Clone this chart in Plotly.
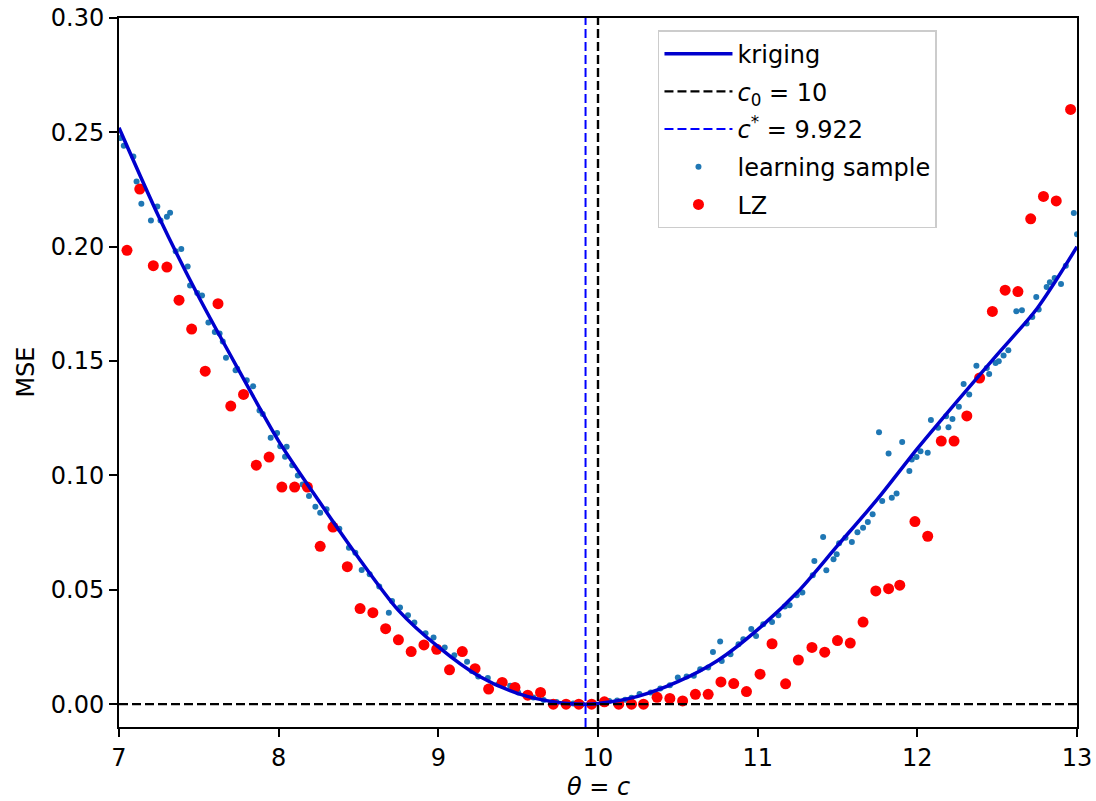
import plotly.graph_objects as go

# kriging prediction curve
krig_x = [7.0, 7.25, 7.5, 7.75, 8.0, 8.25, 8.5, 8.75, 9.0, 9.25, 9.5, 9.75, 9.922,
          10.0, 10.25, 10.5, 10.75, 11.0, 11.25, 11.5, 11.75, 12.0, 12.25, 12.5, 12.75, 13.0]
krig_y = [0.252, 0.213, 0.178, 0.146, 0.115, 0.089, 0.064, 0.041, 0.025, 0.0124, 0.0046, 0.0007, 0.0,
          0.0003, 0.0034, 0.0098, 0.0191, 0.0326, 0.049, 0.0693, 0.0896, 0.1117, 0.1325, 0.1528, 0.173, 0.200]

# learning sample
learn_x = [7.01, 7.03, 7.09, 7.11, 7.14, 7.20, 7.24, 7.26, 7.30, 7.32, 7.355, 7.39, 7.43, 7.445,
           7.49, 7.52, 7.56, 7.60, 7.63, 7.65, 7.67, 7.73, 7.74, 7.80, 7.84, 7.88, 7.90, 7.95,
           7.99, 8.01, 8.04, 8.05, 8.085, 8.12, 8.15, 8.19, 8.23, 8.26, 8.30, 8.34, 8.38, 8.44,
           8.48, 8.52, 8.57, 8.63, 8.69, 8.71, 8.76, 8.81, 8.85, 8.92, 8.97, 9.04, 9.10, 9.18,
           9.21, 9.25, 9.31, 9.375, 9.45, 9.50, 9.595, 9.66, 9.74, 9.845, 9.90, 9.97, 10.03,
           10.07, 10.12, 10.17, 10.21, 10.26, 10.33, 10.39, 10.45, 10.50, 10.555, 10.60, 10.64,
           10.69, 10.72, 10.765, 10.775, 10.83, 10.88, 10.91, 10.96, 10.99, 11.035, 11.09, 11.13,
           11.17, 11.20, 11.245, 11.28, 11.345, 11.355, 11.41, 11.43, 11.475, 11.495, 11.51, 11.55,
           11.59, 11.625, 11.66, 11.69, 11.72, 11.76, 11.78, 11.82, 11.84, 11.87, 11.905, 11.95,
           11.965, 11.995, 12.02, 12.065, 12.085, 12.13, 12.18, 12.195, 12.22, 12.26, 12.29,
           12.325, 12.37, 12.435, 12.45, 12.49, 12.51, 12.54, 12.57, 12.62, 12.655, 12.685, 12.72,
           12.745, 12.76, 12.81, 12.83, 12.86, 12.90, 12.93, 12.98, 13.00]
learn_y = [0.2475, 0.2441, 0.2394, 0.2285, 0.2188, 0.2115, 0.2176, 0.2115, 0.2131, 0.2149, 0.1980,
           0.1990, 0.1914, 0.1830, 0.1798, 0.1787, 0.1669, 0.1627, 0.1620, 0.1585, 0.1515, 0.1460,
           0.1466, 0.1416, 0.1390, 0.1284, 0.1269, 0.1165, 0.1186, 0.1128, 0.1082, 0.1125, 0.1045,
           0.1000, 0.0960, 0.0910, 0.0863, 0.0837, 0.0852, 0.0790, 0.0767, 0.0684, 0.0662, 0.0587,
           0.0568, 0.0514, 0.0400, 0.0451, 0.0422, 0.0389, 0.0357, 0.0310, 0.0291, 0.0248, 0.0214,
           0.0185, 0.0145, 0.0121, 0.0114, 0.0087, 0.0080, 0.0051, 0.0029, 0.0018, 0.0009, 0.0003,
           0.0001, 0.0001, 0.0005, 0.0014, 0.0016, 0.0019, 0.0028, 0.0044, 0.0051, 0.0068, 0.0083,
           0.0116, 0.0121, 0.0124, 0.0153, 0.0160, 0.0228, 0.0274, 0.0189, 0.0218, 0.0262, 0.0284,
           0.0328, 0.0298, 0.0349, 0.0359, 0.0389, 0.0427, 0.0432, 0.0476, 0.0488, 0.0563, 0.0626,
           0.0731, 0.0585, 0.0633, 0.0655, 0.0703, 0.0727, 0.0709, 0.0752, 0.0771, 0.0796, 0.0830,
           0.1189, 0.0888, 0.1096, 0.0902, 0.0921, 0.1146, 0.1019, 0.1070, 0.1080, 0.1106, 0.1099,
           0.1242, 0.1208, 0.1259, 0.1211, 0.1247, 0.1300, 0.1400, 0.1354, 0.1480, 0.1470, 0.1443,
           0.1492, 0.1499, 0.1524, 0.1547, 0.1718, 0.1722, 0.1664, 0.1693, 0.1780, 0.1725, 0.1824,
           0.1845, 0.1863, 0.1837, 0.1917, 0.2147, 0.2055]

# LZ estimates
lz_x = [7.05, 7.13, 7.215, 7.30, 7.376, 7.455, 7.54, 7.62, 7.70, 7.78, 7.86, 7.94, 8.02, 8.10,
        8.18, 8.26, 8.34, 8.43, 8.51, 8.59, 8.67, 8.75, 8.83, 8.91, 8.99, 9.07, 9.15, 9.23,
        9.315, 9.40, 9.48, 9.56, 9.64, 9.72, 9.80, 9.88, 9.96, 10.04, 10.13, 10.21, 10.285,
        10.37, 10.45, 10.53, 10.61, 10.69, 10.77, 10.85, 10.93, 11.015, 11.09, 11.175, 11.255,
        11.34, 11.42, 11.50, 11.58, 11.66, 11.74, 11.82, 11.89, 11.985, 12.065, 12.15, 12.23,
        12.31, 12.39, 12.47, 12.55, 12.63, 12.71, 12.79, 12.87, 12.96]
lz_y = [0.1984, 0.2252, 0.1917, 0.1911, 0.1766, 0.1640, 0.1456, 0.1751, 0.1303, 0.1354, 0.1045,
        0.1080, 0.0949, 0.0949, 0.0949, 0.0690, 0.0774, 0.0601, 0.0418, 0.0400, 0.0330, 0.0281,
        0.0230, 0.0259, 0.0240, 0.0150, 0.0230, 0.0155, 0.0066, 0.0095, 0.0073, 0.0039, 0.0051,
        0.0, 0.0, 0.0, 0.0, 0.0010, 0.0, 0.0, 0.0, 0.0030, 0.0025, 0.0014, 0.0043, 0.0043,
        0.0097, 0.0090, 0.0055, 0.0131, 0.0264, 0.0089, 0.0193, 0.0248, 0.0227, 0.0278, 0.0267,
        0.0359, 0.0495, 0.0505, 0.0520, 0.0798, 0.0734, 0.1150, 0.1150, 0.1260, 0.1426, 0.1717,
        0.1810, 0.1804, 0.2122, 0.2220, 0.2200, 0.2600]

c0 = 10
c_star = 9.922
x_range = [7, 13]
y_range = [-0.01, 0.30]

FONT = "DejaVu Sans"
FS = 24

fig = go.Figure()

# scatters go first so the lines sit on top (like matplotlib)
fig.add_trace(go.Scatter(
    x=learn_x, y=learn_y, mode="markers", name="learning sample",
    marker=dict(color="#1f77b4", size=6), legendrank=4, legendgroup="ls",
))
fig.add_trace(go.Scatter(
    x=lz_x, y=lz_y, mode="markers", name="LZ",
    marker=dict(color="#ff0000", size=11), legendrank=5, legendgroup="lz",
))
fig.add_trace(go.Scatter(
    x=krig_x, y=krig_y, mode="lines", name="kriging",
    line=dict(color="#0000cd", width=3.5, shape="spline", smoothing=0.8),
    legendrank=1, legendgroup="kr",
))
fig.add_trace(go.Scatter(
    x=[c0, c0], y=y_range, mode="lines", name="<i>c</i><sub>0</sub> = 10",
    line=dict(color="black", width=2.4, dash="9px,4px"), legendrank=2, legendgroup="c0",
))
fig.add_trace(go.Scatter(
    x=[c_star, c_star], y=y_range, mode="lines", name="<i>c</i><sup>*</sup> = 9.922",
    line=dict(color="#0000ff", width=2, dash="9px,4px"), legendrank=3, legendgroup="cs",
))
fig.add_trace(go.Scatter(
    x=x_range, y=[0, 0], mode="lines", showlegend=False,
    line=dict(color="black", width=2.4, dash="9px,4px"),
))

axis_common = dict(
    showline=True, mirror=True, linecolor="black", linewidth=2,
    ticks="outside", ticklen=8, tickwidth=2, tickcolor="black",
    showgrid=False, zeroline=False, automargin=False,
    tickfont=dict(family=FONT, size=FS, color="black"),
)
fig.update_xaxes(range=x_range, tickvals=[7, 8, 9, 10, 11, 12, 13], **axis_common)
fig.update_yaxes(range=y_range, tick0=0, dtick=0.05, tickformat=".2f", **axis_common)

fig.update_layout(
    width=1096, height=801,
    margin=dict(l=119, r=19, t=18, b=74, autoexpand=False),
    paper_bgcolor="white", plot_bgcolor="white",
    font=dict(family=FONT, size=FS, color="black"),
    legend=dict(
        x=0.5626, y=0.983, xanchor="left", yanchor="top",
        bgcolor="rgba(255,255,255,0.8)", bordercolor="#cccccc", borderwidth=1.5,
        font=dict(family=FONT, size=FS, color="black"),
        tracegroupgap=3.5, itemwidth=68,
    ),
    annotations=[
        dict(text="MSE", xref="paper", yref="paper", x=-0.098, y=0.5,
             xanchor="center", yanchor="middle",
             textangle=-90, showarrow=False, font=dict(family=FONT, size=FS)),
        dict(text="<i>θ</i> = <i>c</i>", xref="paper", yref="paper", x=0.5, y=-0.084,
             xanchor="center", yanchor="middle",
             showarrow=False, font=dict(family=FONT, size=FS)),
    ],
)

# drop the default 8px page margin so the figure sits at the window's corner
fig.write_html("out.html", config={"displayModeBar": False},
               post_script="document.body.style.margin='0';"
                           "document.body.style.overflow='hidden';")
